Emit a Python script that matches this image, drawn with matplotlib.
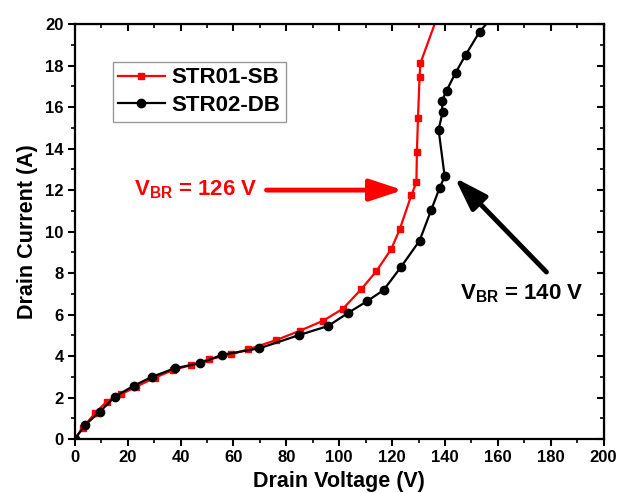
import matplotlib
matplotlib.use("Agg")
import matplotlib.pyplot as plt
from matplotlib.ticker import MultipleLocator

# ==============================================================================
# DATA
# ==============================================================================
v_sb = [0, 2.9, 7.6, 12.0, 17.4, 23.1, 30.2, 37.2, 44.1, 50.8, 59.2, 65.5, 76.2,
        85.1, 93.9, 101.4, 108.4, 114.1, 119.7, 122.9, 127.3, 129.2, 129.4,
        129.8, 130.4, 130.7, 136.1]
i_sb = [0, 0.54, 1.24, 1.80, 2.15, 2.52, 2.95, 3.33, 3.57, 3.84, 4.08, 4.32, 4.77,
        5.22, 5.70, 6.28, 7.23, 8.10, 9.16, 10.11, 11.76, 12.37, 13.85,
        15.46, 17.46, 18.11, 20.0]
sb_marked = 26  # last point is where the trace leaves the frame

v_db = [0, 3.8, 9.5, 15.1, 22.3, 29.2, 37.8, 47.3, 55.7, 69.7, 84.8, 95.8, 103.5,
        110.5, 116.8, 123.3, 130.4, 134.8, 138.0, 139.9, 137.6, 139.1, 138.8,
        140.6, 144.0, 147.8, 153.1, 155.6]
i_db = [0, 0.67, 1.32, 2.04, 2.57, 3.00, 3.41, 3.65, 4.06, 4.37, 5.01, 5.45, 6.09,
        6.64, 7.18, 8.28, 9.56, 11.04, 12.11, 12.66, 14.91, 15.75, 16.28,
        16.79, 17.65, 18.51, 19.63, 20.0]
db_marked = 27

labels = ["STR01-SB", "STR02-DB"]
colors = ["#ff0000", "#000000"]

# ==============================================================================
# STYLE
# ==============================================================================
plt.rcParams["font.family"] = ["Liberation Sans", "DejaVu Sans"]
plt.rcParams["font.weight"] = "bold"
plt.rcParams["mathtext.fontset"] = "custom"
plt.rcParams["mathtext.rm"] = "Liberation Sans:bold"
plt.rcParams["mathtext.bf"] = "Liberation Sans:bold"
plt.rcParams["mathtext.it"] = "Liberation Sans:bold"

fig = plt.figure(figsize=(6.19, 4.93), dpi=100)
ax = fig.add_axes([0.121, 0.1095, 0.854, 0.8415])

ax.plot(v_sb, i_sb, color=colors[0], lw=1.6, marker="s", markersize=5,
        markevery=list(range(sb_marked)), label=labels[0])
ax.plot(v_db, i_db, color=colors[1], lw=1.6, marker="o", markersize=6,
        markevery=list(range(db_marked)), label=labels[1])

ax.set_xlim(0, 200)
ax.set_ylim(0, 20)
ax.xaxis.set_major_locator(MultipleLocator(20))
ax.xaxis.set_minor_locator(MultipleLocator(10))
ax.yaxis.set_major_locator(MultipleLocator(2))
ax.yaxis.set_minor_locator(MultipleLocator(1))

for s in ax.spines.values():
    s.set_linewidth(1.6)
ax.tick_params(which="major", direction="out", length=5, width=1.5,
               labelsize=12, pad=3)
ax.tick_params(which="minor", direction="out", length=3, width=1.2)

# inward ticks on top / right
top = ax.secondary_xaxis("top")
top.xaxis.set_major_locator(MultipleLocator(20))
top.xaxis.set_minor_locator(MultipleLocator(10))
top.tick_params(which="major", direction="in", length=5, width=1.5, labeltop=False)
top.tick_params(which="minor", direction="in", length=3, width=1.2)
right = ax.secondary_yaxis("right")
right.yaxis.set_major_locator(MultipleLocator(2))
right.yaxis.set_minor_locator(MultipleLocator(1))
right.tick_params(which="major", direction="in", length=5, width=1.5, labelright=False)
right.tick_params(which="minor", direction="in", length=3, width=1.2)

ax.set_xlabel("Drain Voltage (V)", fontsize=15.5, fontweight="bold", labelpad=4)
ax.set_ylabel("Drain Current (A)", fontsize=15.5, fontweight="bold", labelpad=5)

leg = ax.legend(loc="upper left", bbox_to_anchor=(0.0713, 0.909), fontsize=16,
                frameon=True, fancybox=False, edgecolor="#808080",
                borderaxespad=0, handlelength=2.1, borderpad=0.25,
                labelspacing=0.3, handletextpad=0.3)
leg.get_frame().set_linewidth(1.0)

# annotations
ax.annotate("", xy=(124.1, 12.0), xytext=(72.5, 12.0),
            arrowprops=dict(arrowstyle="-|>,head_length=1.0,head_width=0.33",
                            color="red", lw=3.5, mutation_scale=20,
                            shrinkA=0, shrinkB=0))
ax.text(69.2, 12.0, r"V$_{\mathregular{BR}}$ = 126 V", color="red",
        fontsize=16, fontweight="bold", ha="right", va="center")

ax.annotate("", xy=(143.7, 12.6), xytext=(178.4, 8.05),
            arrowprops=dict(arrowstyle="-|>,head_length=1.0,head_width=0.33",
                            color="black", lw=3.5, mutation_scale=20,
                            shrinkA=0, shrinkB=0))
ax.text(145.6, 7.0, r"V$_{\mathregular{BR}}$ = 140 V", color="black",
        fontsize=16, fontweight="bold", ha="left", va="center")

fig.savefig("out.png", dpi=100)
